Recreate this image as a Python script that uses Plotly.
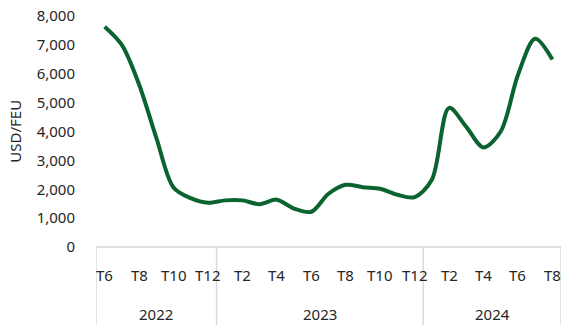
import plotly.graph_objects as go

# ---- data ----
months = ["T6", "T7", "T8", "T9", "T10", "T11", "T12",
          "T1", "T2", "T3", "T4", "T5", "T6", "T7", "T8", "T9", "T10", "T11", "T12",
          "T1", "T2", "T3", "T4", "T5", "T6", "T7", "T8"]
years = ["2022", "2023", "2024"]
year_counts = [7, 12, 8]
rates = [7630, 7000, 5630, 3790, 2060, 1690, 1530,
         1615, 1615, 1480, 1640, 1330, 1220, 1845, 2155, 2070, 2020, 1810, 1730,
         2330, 4820, 4160, 3450, 4000, 5960, 7210, 6490]
y_ticks = [0, 1000, 2000, 3000, 4000, 5000, 6000, 7000, 8000]

FONT = "Noto Sans"
TXT = "#262626"
GRID = "#d9d9d9"
GREEN = "#0b6330"
FS = 15

xs = list(range(len(rates)))

fig = go.Figure()
fig.add_trace(go.Scatter(
    x=xs, y=rates, mode="lines",
    line=dict(color=GREEN, width=4, shape="spline", smoothing=0.9),
    hoverinfo="skip", showlegend=False, cliponaxis=False))

annotations = []
# month tick labels (every second month)
for i, m in enumerate(months):
    if i % 2 == 0:
        annotations.append(dict(x=i, y=-0.12, xref="x", yref="paper", text=m,
                                showarrow=False, xanchor="center", yanchor="middle",
                                font=dict(family=FONT, size=FS, color=TXT)))
# year group labels and dividers
shapes = []
start = 0
bounds = [-0.5]
for yr, n in zip(years, year_counts):
    center = start + (n - 1) / 2
    annotations.append(dict(x=center, y=-0.292, xref="x", yref="paper", text=yr,
                            showarrow=False, xanchor="center", yanchor="middle",
                            font=dict(family=FONT, size=FS, color=TXT)))
    start += n
    bounds.append(start - 0.5)
for b in bounds:
    shapes.append(dict(type="line", xref="x", yref="paper", x0=b, x1=b, y0=0, y1=-0.34,
                       line=dict(color=GRID, width=1.5)))
shapes.append(dict(type="line", xref="x", yref="paper", x0=bounds[0], x1=bounds[-1],
                   y0=0, y1=0, line=dict(color=GRID, width=1.5)))

annotations.append(dict(x=-0.176, y=0.5, xref="paper", yref="paper", text="USD/FEU",
                        textangle=-90, showarrow=False, xanchor="center", yanchor="middle",
                        font=dict(family=FONT, size=FS, color=TXT)))

fig.update_layout(
    width=566, height=325,
    margin=dict(l=96, r=5, t=14, b=78),
    paper_bgcolor="white", plot_bgcolor="white",
    xaxis=dict(range=[-0.5, len(rates) - 0.5], showticklabels=False, showgrid=False,
               zeroline=False, showline=False, ticks=""),
    yaxis=dict(range=[0, 8000], tickvals=y_ticks, tickformat=",", showgrid=False,
               zeroline=False, showline=False, ticks="outside", ticklen=17,
               tickcolor="rgba(0,0,0,0)",
               tickfont=dict(family=FONT, size=FS, color=TXT)),
    annotations=annotations, shapes=shapes,
)

# remove the page's default 8px body margin so the figure fills the window
fig.write_html("out.html", config={"displayModeBar": False},
               post_script="document.body.style.margin='0';document.body.style.overflow='hidden';")
